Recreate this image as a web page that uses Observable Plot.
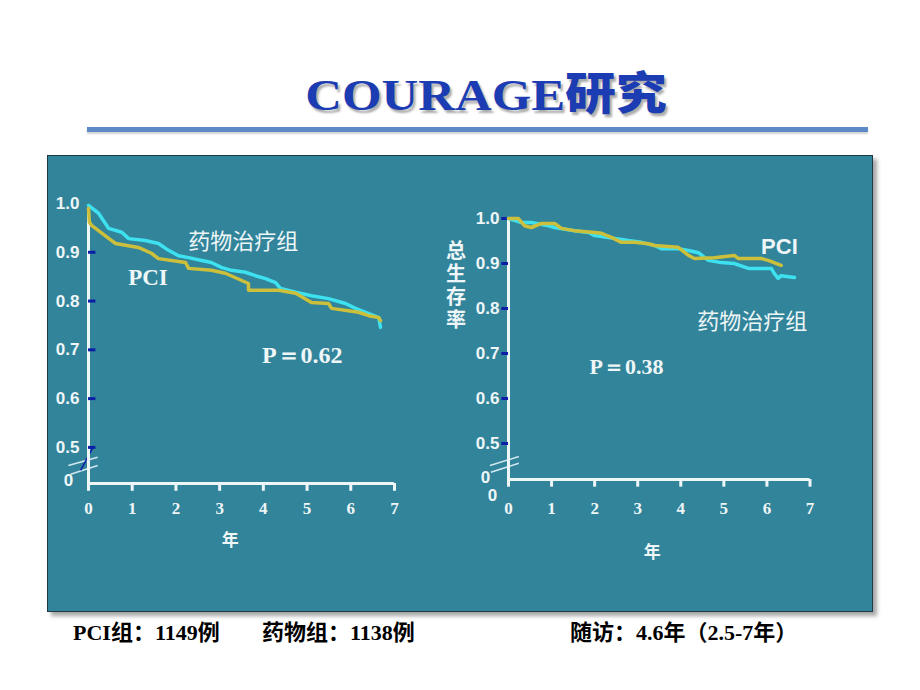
<!DOCTYPE html>
<html>
<head>
<meta charset="utf-8">
<script src="https://cdn.jsdelivr.net/npm/d3@7"></script>
<script src="https://cdn.jsdelivr.net/npm/@observablehq/plot@0.6"></script>
<style>
  html, body { margin: 0; padding: 0; background: #ffffff; }
  body { width: 920px; height: 690px; position: relative; overflow: hidden; }
  #title { position: absolute; left: 0; width: 972px; top: 68px; text-align: center; line-height: 45px; white-space: nowrap; }
  #title span.inner { display: inline-block; transform: scaleX(1.13); color: #1b3cb2; font-weight: bold; font-size: 45px;
     text-shadow: 2px 3px 2px rgba(70,70,70,0.45); }
  #title .latin { font-family: "Liberation Serif", "Times New Roman", serif; }
  #title .cjk { font-family: "Noto Sans CJK SC", sans-serif; font-weight: 900; }
  #rule { position: absolute; left: 87px; top: 127px; width: 781px; height: 5px; background: #5b8ac6; box-shadow: 0 2px 2px rgba(0,0,0,0.18); }
  #panel { position: absolute; left: 47px; top: 155px; width: 826px; height: 457px; box-sizing: border-box;
     background: #32849b; border: 1px solid #1e3a44; box-shadow: 4px 4px 4px rgba(0,0,0,0.35); }
  .plot { position: absolute; }
  .foot { position: absolute; top: 621px; font-size: 22px; font-weight: bold; line-height: 24px; color: #000;
     font-family: "Liberation Serif", "Noto Sans CJK SC", serif; white-space: nowrap; }
</style>
</head>
<body>
<div id="title"><span class="inner"><span class="latin">COURAGE</span><span class="cjk">研究</span></span></div>
<div id="rule"></div>
<div id="panel"></div>
<div id="leftPlot" class="plot" style="left:47px; top:155px;"></div>
<div id="rightPlot" class="plot" style="left:430px; top:155px;"></div>
<div class="foot" style="left:73px;">PCI组：1149例</div>
<div class="foot" style="left:262px;">药物组：1138例</div>
<div class="foot" style="left:570px;">随访：4.6年（2.5-7年）</div>

<script>
// ---------- data ----------
const xTicks = [0, 1, 2, 3, 4, 5, 6, 7];
const yTicks = [0.5, 0.6, 0.7, 0.8, 0.9, 1.0];

// Left panel
const leftMedYears = [0, 0.23, 0.46, 0.76, 0.92, 1.30, 1.60, 1.83, 2.06, 2.29, 2.59, 2.81, 3.04, 3.27, 3.59, 3.82, 4.05, 4.28, 4.39, 4.74, 5.10, 5.49, 5.88, 6.11, 6.34, 6.64, 6.68];
const leftMedSurv  = [0.996, 0.980, 0.949, 0.941, 0.928, 0.924, 0.918, 0.904, 0.893, 0.889, 0.883, 0.879, 0.869, 0.863, 0.859, 0.852, 0.846, 0.838, 0.826, 0.818, 0.811, 0.805, 0.795, 0.785, 0.777, 0.766, 0.746];
const leftPciYears = [0, 0.02, 0.07, 0.53, 0.62, 1.14, 1.44, 1.60, 2.22, 2.29, 2.81, 3.13, 3.66, 3.66, 4.35, 4.74, 5.10, 5.49, 5.56, 6.18, 6.41, 6.64, 6.68];
const leftPciSurv  = [0.990, 0.962, 0.955, 0.924, 0.918, 0.910, 0.898, 0.887, 0.879, 0.867, 0.863, 0.857, 0.836, 0.822, 0.822, 0.816, 0.797, 0.795, 0.785, 0.777, 0.770, 0.766, 0.760];

// Right panel (overall survival)
const rightPciYears = [0, 0.23, 0.37, 0.53, 0.77, 1.07, 1.23, 1.53, 2.00, 2.16, 2.39, 2.62, 2.92, 3.25, 3.39, 3.94, 4.18, 4.32, 4.78, 5.24, 5.34, 5.87, 6.03, 6.33];
const rightPciSurv  = [1.0, 1.0, 0.984, 0.980, 0.989, 0.989, 0.978, 0.973, 0.969, 0.967, 0.958, 0.947, 0.947, 0.944, 0.940, 0.936, 0.918, 0.911, 0.913, 0.918, 0.911, 0.911, 0.907, 0.896];
const rightMedYears = [0, 0.30, 0.53, 0.93, 1.07, 1.53, 1.86, 2.00, 2.32, 2.78, 3.09, 3.39, 3.55, 3.94, 4.18, 4.41, 4.64, 4.94, 5.24, 5.57, 6.10, 6.17, 6.26, 6.33, 6.64];
const rightMedSurv  = [1.0, 0.991, 0.991, 0.984, 0.980, 0.973, 0.969, 0.962, 0.958, 0.951, 0.947, 0.940, 0.933, 0.933, 0.929, 0.924, 0.907, 0.902, 0.900, 0.889, 0.889, 0.878, 0.867, 0.873, 0.869];

const medLabel = "药物治疗组";
const pciLabel = "PCI";
const leftP = "P＝0.62";
const rightP = "P＝0.38";
const yTitle = "总\n生\n存\n率";
const xTitle = "年";

// ---------- styles ----------
const CYAN = "#3ee1ef";
const YEL = "#cbbf3b";
const WHITE = "#eef6f7";
const TICKBLUE = "#0c1ea6";
const BREAK = "#d2e8f0";
const SANS = "Liberation Sans, Arial, sans-serif";
const SERIF = "Liberation Serif, Times New Roman, serif";
const CJK = "Noto Sans CJK SC, sans-serif";

const rows = (t, s) => t.map((d, i) => ({t: d, s: s[i]}));

// ---------- left chart ----------
{
  const yMin = 0.426;
  const chart = Plot.plot({
    width: 400, height: 400,
    marginLeft: 41, marginRight: 53, marginTop: 48, marginBottom: 72,
    x: {domain: [0, 7], axis: null},
    y: {domain: [yMin, 1.0], axis: null},
    style: {background: "transparent", overflow: "visible"},
    marks: [
      Plot.link([0], {x1: () => -0.46, y1: () => 0.463, x2: () => 0.21, y2: () => 0.480, stroke: BREAK, strokeWidth: 1.5}),
      Plot.link([0], {x1: () => -0.41, y1: () => 0.445, x2: () => 0.21, y2: () => 0.463, stroke: BREAK, strokeWidth: 1.5}),
      Plot.link([0], {x1: () => 0.09, y1: () => 0.498, x2: () => -0.18, y2: () => 0.453, stroke: TICKBLUE, strokeWidth: 1.5}),
      Plot.ruleX([0], {y1: yMin, y2: 0.99, stroke: WHITE, strokeWidth: 3}),
      Plot.ruleY([yMin], {x1: 0, x2: 7, stroke: WHITE, strokeWidth: 3}),
      Plot.ruleX(xTicks, {x: d => d, y1: yMin, y2: yMin - 0.016, stroke: WHITE, strokeWidth: 3}),
      Plot.ruleY(yTicks.filter(d => d < 1), {y: d => d, x1: 0, x2: 0.17, stroke: TICKBLUE, strokeWidth: 3}),
      Plot.text(yTicks, {x: 0, y: d => d, text: d => d.toFixed(1), textAnchor: "end", dx: -9, fill: WHITE, fontSize: 17, fontWeight: "bold", fontFamily: SANS}),
      Plot.text(["0"], {x: 0, y: yMin, text: d => d, dx: -20, dy: -3, fill: WHITE, fontSize: 17, fontWeight: "bold", fontFamily: SANS}),
      Plot.text(xTicks, {x: d => d, y: yMin, text: d => String(d), dy: 25, fill: WHITE, fontSize: 17, fontWeight: "bold", fontFamily: SERIF}),
      Plot.text([xTitle], {x: 3.24, y: yMin, text: d => d, dy: 57, fill: WHITE, fontSize: 17, fontWeight: "bold", fontFamily: CJK}),
      Plot.line(rows(leftMedYears, leftMedSurv), {x: "t", y: "s", stroke: CYAN, strokeWidth: 3.5, strokeLinejoin: "round"}),
      Plot.line(rows(leftPciYears, leftPciSurv), {x: "t", y: "s", stroke: YEL, strokeWidth: 3.5, strokeLinejoin: "round"}),
      Plot.text([medLabel], {x: 3.54, y: 0.921, text: d => d, fill: WHITE, fontSize: 22, fontFamily: CJK}),
      Plot.text([pciLabel], {x: 1.36, y: 0.849, text: d => d, fill: WHITE, fontSize: 23, fontWeight: "bold", fontFamily: SERIF}),
      Plot.text([leftP], {x: 4.89, y: 0.689, text: d => d, fill: WHITE, fontSize: 24, fontWeight: "bold", fontFamily: SERIF})
    ]
  });
  document.getElementById("leftPlot").appendChild(chart);
}

// ---------- right chart ----------
{
  const yMin = 0.42;
  const chart = Plot.plot({
    width: 430, height: 400,
    marginLeft: 78, marginRight: 50.5, marginTop: 63, marginBottom: 76,
    x: {domain: [0, 7], axis: null},
    y: {domain: [yMin, 1.0], axis: null},
    style: {background: "transparent", overflow: "visible"},
    marks: [
      Plot.link([0], {x1: () => -0.43, y1: () => 0.451, x2: () => 0.24, y2: () => 0.471, stroke: BREAK, strokeWidth: 1.5}),
      Plot.link([0], {x1: () => -0.41, y1: () => 0.436, x2: () => 0.24, y2: () => 0.456, stroke: BREAK, strokeWidth: 1.5}),
      Plot.ruleX([0], {y1: yMin, y2: 1.0, stroke: WHITE, strokeWidth: 3}),
      Plot.ruleY([yMin], {x1: 0, x2: 7, stroke: WHITE, strokeWidth: 3}),
      Plot.ruleX(xTicks, {x: d => d, y1: yMin, y2: yMin - 0.017, stroke: WHITE, strokeWidth: 3}),
      Plot.ruleY(yTicks, {y: d => d, x1: -0.155, x2: 0, stroke: TICKBLUE, strokeWidth: 3}),
      Plot.text(yTicks, {x: 0, y: d => d, text: d => d.toFixed(1), textAnchor: "end", dx: -9, fill: WHITE, fontSize: 17, fontWeight: "bold", fontFamily: SANS}),
      Plot.text(["0"], {x: 0, y: yMin, text: d => d, dx: -23, dy: -2, fill: WHITE, fontSize: 17, fontWeight: "bold", fontFamily: SANS}),
      Plot.text(["0"], {x: 0, y: yMin, text: d => d, dx: -16, dy: 16, fill: WHITE, fontSize: 17, fontWeight: "bold", fontFamily: SANS}),
      Plot.text(xTicks, {x: d => d, y: yMin, text: d => String(d), dy: 29, fill: WHITE, fontSize: 17, fontWeight: "bold", fontFamily: SERIF}),
      Plot.text([xTitle], {x: 3.34, y: yMin, text: d => d, dy: 73, fill: WHITE, fontSize: 17, fontWeight: "bold", fontFamily: CJK}),
      Plot.text([yTitle], {x: -1.22, y: 0.853, text: d => d, lineHeight: 1.15, fill: WHITE, fontSize: 20, fontWeight: "bold", fontFamily: CJK}),
      Plot.line(rows(rightMedYears, rightMedSurv), {x: "t", y: "s", stroke: CYAN, strokeWidth: 3.5, strokeLinejoin: "round"}),
      Plot.line(rows(rightPciYears, rightPciSurv), {x: "t", y: "s", stroke: YEL, strokeWidth: 3.5, strokeLinejoin: "round"}),
      Plot.text([pciLabel], {x: 6.29, y: 0.936, text: d => d, fill: WHITE, fontSize: 22, fontWeight: "bold", fontFamily: SANS}),
      Plot.text([medLabel], {x: 5.66, y: 0.770, text: d => d, fill: WHITE, fontSize: 22, fontFamily: CJK}),
      Plot.text([rightP], {x: 2.74, y: 0.669, text: d => d, fill: WHITE, fontSize: 22, fontWeight: "bold", fontFamily: SERIF})
    ]
  });
  document.getElementById("rightPlot").appendChild(chart);
}
</script>
</body>
</html>
